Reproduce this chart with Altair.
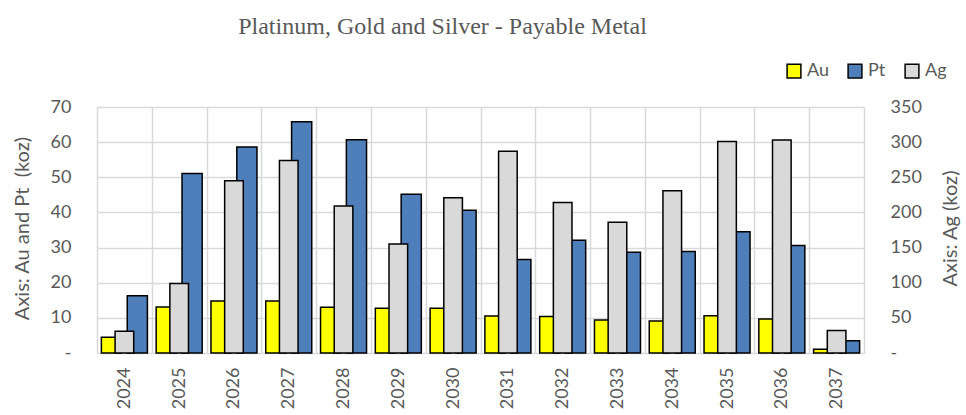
import altair as alt
import pandas as pd

years = [str(y) for y in range(2024, 2038)]
au = [4.5, 13.1, 14.8, 14.8, 13.0, 12.7, 12.7, 10.5, 10.4, 9.4, 9.1, 10.6, 9.7, 1.1]
pt = [16.3, 51.1, 58.6, 65.8, 60.7, 45.2, 40.6, 26.6, 32.1, 28.7, 28.9, 34.5, 30.6, 3.5]
ag = [31, 99, 245, 274, 209, 155, 221, 287, 214, 186, 231, 301, 303, 32]

metals = ["Au", "Pt", "Ag"]
colors = ["#FFFF00", "#4F7FBB", "#D9D9D9"]

rows = []
for i, y in enumerate(years):
    rows.append({"year": y, "metal": "Au", "value": au[i]})
    rows.append({"year": y, "metal": "Pt", "value": pt[i]})
    rows.append({"year": y, "metal": "Ag", "value": ag[i]})
df = pd.DataFrame(rows)

FONT = "Lato"
GREY = "#595959"
GRID = "#D9D9D9"

color = alt.Color(
    "metal:N",
    scale=alt.Scale(domain=metals, range=colors),
    legend=alt.Legend(
        title=None, orient="none", direction="horizontal",
        legendX=688, legendY=-45,
        symbolType="square", symbolSize=190, symbolStrokeColor="black",
        symbolStrokeWidth=1.5, symbolOpacity=1,
        labelFont=FONT, labelFontSize=18, labelColor=GREY,
        columnPadding=16, labelOffset=4,
    ),
)

xenc = alt.X(
    "year:O",
    title=None,
    scale=alt.Scale(paddingInner=0, paddingOuter=0),
    axis=alt.Axis(
        labelAngle=270, labelAlign="right", labelBaseline="middle",
        labelFont=FONT, labelFontSize=18, labelColor=GREY, labelPadding=14,
        ticks=False, domain=False, grid=True, gridColor=GRID, gridWidth=1.5,
        tickBand="extent",
    ),
)

base = alt.Chart(df)

left = base.transform_filter(
    alt.FieldOneOfPredicate(field="metal", oneOf=["Au", "Pt"])
).mark_bar(stroke="black", strokeWidth=1.5).encode(
    x=xenc,
    xOffset=alt.XOffset(
        "metal:N",
        scale=alt.Scale(domain=["Au", "Pt"], paddingInner=0.22, paddingOuter=0.17),
    ),
    y=alt.Y(
        "value:Q",
        scale=alt.Scale(domain=[0, 70], nice=False),
        axis=alt.Axis(
            values=[0, 10, 20, 30, 40, 50, 60, 70],
            labelExpr="datum.value == 0 ? '-' : datum.label",
            labelFont=FONT, labelFontSize=18, labelColor=GREY, labelPadding=26,
            ticks=False, domain=False, grid=True, gridColor=GRID, gridWidth=1.5,
            title="Axis: Au and Pt\u00a0 (koz)", titleFont=FONT, titleFontSize=20,
            titleFontWeight="normal", titleColor=GREY, titleAngle=270,
            titleX=-75, titleY=121, titleAlign="center", titleBaseline="middle",
        ),
    ),
    color=color,
)

right = base.transform_filter(
    alt.FieldEqualPredicate(field="metal", equal="Ag")
).mark_bar(stroke="black", strokeWidth=1.5, width=alt.RelativeBandSize(0.34)).encode(
    x=xenc,
    y=alt.Y(
        "value:Q",
        scale=alt.Scale(domain=[0, 350], nice=False),
        axis=alt.Axis(
            orient="right",
            values=[0, 50, 100, 150, 200, 250, 300, 350],
            labelExpr="datum.value == 0 ? '-' : datum.label",
            labelFont=FONT, labelFontSize=18, labelColor=GREY, labelPadding=26,
            ticks=False, domain=False, grid=False,
            title="Axis: Ag (koz)", titleFont=FONT, titleFontSize=20,
            titleFontWeight="normal", titleColor=GREY, titleAngle=270,
            titleX=86, titleY=121, titleAlign="center", titleBaseline="middle",
        ),
    ),
    color=color,
)

chart = alt.layer(left, right).resolve_scale(y="independent").properties(
    width=767, height=246,
    autosize=alt.AutoSizeParams(type="none"),
    padding={"left": 97, "top": 107, "right": 102, "bottom": 62},
    title=alt.TitleParams(
        "Platinum, Gold and Silver - Payable Metal",
        font="Liberation Serif", fontSize=24, fontWeight="normal", color=GREY,
        anchor="middle", dx=-38, offset=4, baseline="alphabetic",
    ),
).configure_view(stroke=GRID, strokeWidth=1.5).configure(background="white")

chart.save("out.html", embed_options={"renderer": "svg", "actions": False})
